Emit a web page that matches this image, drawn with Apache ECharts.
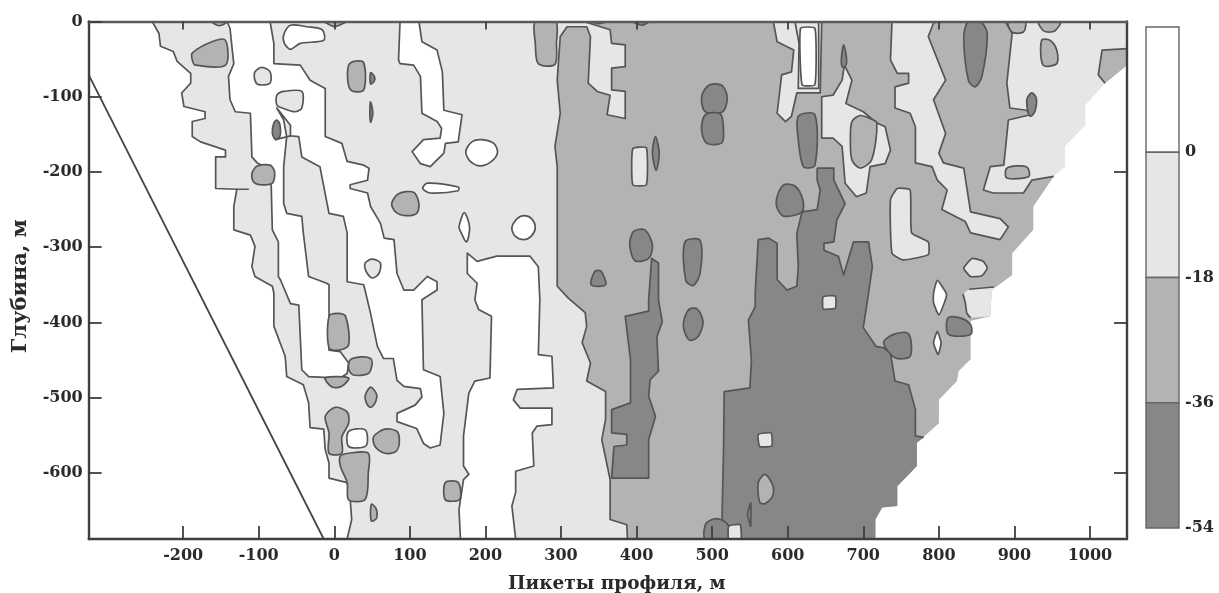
<!DOCTYPE html>
<html><head><meta charset="utf-8">
<style>html,body{margin:0;padding:0;background:#fff}#c{width:1219px;height:593px}</style>
<script src="https://cdn.jsdelivr.net/npm/echarts@6/dist/echarts.min.js"></script>
</head><body><div id="c"></div>
<script>
const xTicks=[-200,-100,0,100,200,300,400,500,600,700,800,900,1000];
const yTicks=[0,-100,-200,-300,-400,-500,-600];
const xTicksTop=[-200,0,200,400,600,800,1000];
const yTicksRight=[-200,-400,-600];
const bandLevels=[18,0,-18,-36,-54];
const barLabels=[0,-18,-36,-54];
const survey=[[-325,-71],[-14,-688]];

const leftContour=[[-241,0],[-232,-16],[-230,-33],[-213,-40],[-208,-53],[-190,-69],[-190,-82],[-202,-95],[-199,-113],[-171,-120],[-171,-129],[-188,-133],[-188,-153],[-177,-160],[-144,-171],[-144,-180],[-157,-180],[-157,-222],[-129,-223],[-133,-246],[-133,-277],[-111,-284],[-105,-299],[-109,-326],[-105,-339],[-82,-352],[-80,-361],[-80,-405],[-65,-445],[-63,-472],[-41,-483],[-34,-507],[-32,-540],[-14,-542],[-12,-569],[-7,-587],[-7,-607],[17,-613],[21,-635],[23,-662],[17,-688]];
const blankLow=[[716,-688],[716,-662],[725,-646],[745,-644],[745,-618],[771,-591],[771,-560]];
const blankMid=[[800,-534],[800,-503],[824,-478],[826,-465],[842,-449],[842,-398],[868,-392],[870,-357],[897,-337],[897,-308],[925,-277],[925,-246],[952,-206]];
const blankHigh=[[967,-193],[967,-166],[994,-138],[994,-111],[1020,-82],[1049,-58],[1049,0]];

const whiteMain=[[-142,0],[-138,-9],[-135,-38],[-133,-56],[-140,-73],[-138,-104],[-131,-120],[-111,-122],[-109,-180],[-102,-188],[-84,-197],[-82,-277],[-74,-293],[-74,-339],[-71,-344],[-58,-375],[-47,-377],[-43,-463],[-34,-472],[8,-474],[17,-468],[19,-454],[8,-439],[-7,-437],[-7,-350],[-10,-348],[-34,-339],[-41,-281],[-43,-259],[-63,-255],[-67,-242],[-67,-193],[-63,-153],[-67,-131],[-76,-115],[-58,-138],[-58,-152],[-47,-153],[-43,-180],[-19,-193],[-7,-255],[12,-259],[17,-281],[17,-346],[39,-350],[48,-388],[57,-432],[65,-448],[78,-448],[83,-477],[92,-485],[114,-488],[116,-499],[107,-510],[83,-521],[83,-532],[109,-541],[118,-561],[127,-567],[140,-563],[145,-521],[140,-472],[118,-463],[116,-370],[136,-357],[136,-346],[123,-339],[105,-357],[92,-357],[83,-335],[79,-290],[66,-288],[61,-268],[48,-246],[44,-228],[21,-222],[21,-217],[44,-211],[46,-195],[39,-191],[17,-186],[10,-162],[-12,-153],[-12,-104],[-12,-89],[-32,-78],[-45,-58],[-80,-56],[-80,-29],[-85,0]];
const whiteUpper=[[87,0],[85,-51],[87,-56],[105,-58],[114,-73],[116,-122],[136,-133],[142,-142],[140,-155],[118,-157],[103,-173],[114,-189],[127,-193],[145,-175],[147,-162],[164,-160],[169,-124],[145,-118],[143,-67],[136,-38],[116,-27],[112,0]];
const whiteLower=[[176,-308],[189,-319],[215,-312],[259,-312],[270,-326],[272,-370],[270,-443],[288,-445],[290,-487],[242,-489],[237,-503],[246,-514],[288,-514],[288,-536],[268,-538],[262,-547],[264,-591],[240,-598],[240,-626],[235,-644],[240,-688],[167,-688],[165,-649],[171,-609],[178,-602],[171,-591],[171,-551],[178,-494],[186,-478],[206,-474],[208,-392],[191,-383],[186,-370],[189,-348],[176,-335]];
const whiteBlobs=[
[[174,-173],[182,-160],[195,-157],[211,-162],[216,-174],[208,-186],[193,-192],[180,-186]],
[[235,-274],[242,-262],[251,-258],[261,-262],[266,-274],[261,-285],[251,-290],[239,-285]],
[[117,-222],[123,-215],[164,-220],[164,-225],[127,-228]],
[[165,-273],[172,-254],[179,-273],[175,-293],[167,-279]],
[[-67,-18],[-58,-5],[-36,-7],[-16,-11],[-14,-25],[-45,-29],[-58,-37],[-66,-29]],
[[19,-545],[41,-543],[42,-564],[19,-565]]];
const lightOnWhite=[
[[-105,-67],[-96,-61],[-85,-67],[-85,-82],[-100,-84],[-105,-78]],
[[-76,-98],[-67,-93],[-43,-93],[-43,-115],[-52,-120],[-69,-115],[-76,-111]],
[[41,-321],[50,-316],[61,-321],[59,-335],[50,-341],[42,-332]]];
const midBlobs=[
[[-188,-42],[-162,-27],[-144,-25],[-144,-58],[-184,-58],[-188,-51]],
[[19,-58],[26,-53],[39,-55],[39,-91],[23,-92],[18,-80]],
[[76,-242],[85,-229],[105,-227],[112,-242],[109,-255],[94,-258],[81,-253]],
[[-109,-202],[-102,-192],[-85,-191],[-79,-200],[-82,-215],[-98,-217],[-107,-213]],
[[-7,-392],[4,-388],[15,-392],[19,-430],[6,-437],[-7,-434]],
[[21,-450],[35,-446],[48,-448],[50,-456],[45,-468],[25,-470],[19,-462]],
[[-12,-474],[19,-474],[10,-485],[-3,-486]],
[[41,-497],[48,-486],[56,-496],[54,-507],[48,-513],[42,-506]],
[[-12,-525],[1,-513],[17,-519],[19,-534],[10,-552],[10,-574],[-7,-574],[-7,-547]],
[[8,-578],[19,-574],[45,-574],[45,-600],[41,-635],[19,-636],[17,-613],[8,-591]],
[[52,-552],[67,-542],[83,-545],[86,-561],[81,-572],[67,-574],[54,-565]],
[[49,-642],[55,-647],[56,-660],[49,-664]],
[[147,-613],[164,-613],[166,-635],[147,-636]],
[[266,0],[266,-29],[270,-56],[292,-57],[294,-29],[293,0]],
[[936,-25],[947,-25],[956,-38],[956,-56],[938,-58]],
[[892,0],[914,0],[912,-14],[896,-14]],
[[932,0],[961,0],[954,-12],[945,-14],[938,-12]],
[[890,-195],[916,-193],[919,-206],[890,-208]],
[[-12,0],[15,0],[4,-6],[-3,-6]],
[[-162,0],[-142,0],[-149,-5],[-155,-5]]];
const darkLens=[
[[-80,-135],[-76,-131],[-72,-137],[-72,-153],[-78,-157],[-82,-148]],
[[48,-68],[53,-73],[53,-79],[48,-83]],
[[48,-107],[51,-122],[48,-134],[47,-120]]];
const cornerMid=[[1016,-38],[1049,-36],[1049,-58],[1020,-82],[1011,-71]];
const cornerEdge=[[1049,-36],[1016,-38],[1011,-71],[1020,-82]];
const extraLines=[[[-129,-223],[-113,-223]],[[-78,-157],[-58,-152]]];

const midLeft=[[330,0],[365,-11],[367,-29],[385,-31],[385,-60],[367,-62],[367,-91],[385,-93],[385,-129],[361,-124],[365,-98],[348,-93],[336,-82],[339,-20],[334,-7],[308,-7],[299,-20],[295,-78],[299,-122],[292,-166],[295,-193],[295,-352],[310,-368],[332,-387],[334,-405],[328,-427],[339,-454],[334,-478],[359,-492],[359,-529],[354,-556],[365,-609],[365,-662],[387,-669],[388,-688]];
const midRight=[[923,-211],[912,-228],[872,-228],[859,-224],[868,-193],[886,-191],[892,-131],[921,-124],[916,-118],[894,-115],[890,-82],[897,-16],[888,0]];

const lightTop=[[581,0],[586,-27],[608,-38],[605,-67],[592,-71],[586,-122],[597,-133],[605,-126],[612,-95],[643,-95],[645,0]];
const rectHalo=[[610,-2],[615,-29],[614,-89],[641,-89],[641,-2]];
const lightNotch=[[645,-100],[660,-98],[672,-78],[675,-58],[685,-78],[677,-109],[700,-120],[718,-135],[729,-140],[736,-171],[729,-189],[709,-193],[704,-228],[691,-233],[676,-215],[672,-166],[660,-155],[645,-155]];
const lightStripe=[[738,0],[736,-51],[745,-69],[760,-69],[760,-82],[742,-87],[742,-115],[762,-122],[769,-140],[769,-188],[791,-193],[798,-211],[811,-224],[804,-250],[835,-266],[842,-281],[881,-290],[892,-273],[881,-262],[842,-253],[833,-195],[806,-188],[800,-175],[809,-149],[793,-104],[809,-78],[786,-20],[793,-2],[799,0]];
const lightEdge=[[840,-356],[873,-353],[870,-361],[868,-392],[842,-394],[837,-388],[835,-374],[832,-362]];
const lightIslands=[
[[736,-237],[745,-222],[762,-224],[764,-281],[786,-293],[786,-310],[753,-317],[738,-308]],
[[833,-328],[844,-315],[859,-319],[864,-328],[857,-338],[842,-339]],
[[395,-169],[413,-168],[413,-217],[395,-217]]];
const whiteLens=[
[[617,-9],[636,-9],[636,-84],[619,-84]],
[[793,-361],[798,-344],[810,-362],[808,-372],[800,-390],[793,-374]],
[[793,-427],[798,-412],[803,-427],[799,-443]]];
const midIsland=[[685,-133],[696,-125],[709,-129],[718,-135],[711,-184],[696,-195],[685,-184],[683,-157]];

const darkContourA=[[639,-195],[661,-195],[661,-211],[676,-242],[665,-264],[661,-293],[648,-295],[648,-304],[667,-312],[674,-337],[687,-293],[707,-293],[712,-326],[707,-361],[700,-407],[717,-432],[727,-434],[736,-441],[742,-478],[760,-483],[769,-516],[769,-551],[780,-553]];
const darkContourB=[[522,-688],[522,-671],[513,-662],[515,-574],[516,-492],[550,-487],[552,-450],[548,-397],[557,-379],[557,-361],[561,-290],[575,-288],[586,-295],[586,-343],[599,-357],[612,-352],[614,-326],[612,-282],[619,-253],[639,-250],[643,-224],[639,-211],[639,-195]];
const darkStrip=[[416,-370],[420,-315],[429,-321],[429,-370],[434,-399],[427,-419],[429,-465],[418,-476],[416,-498],[425,-525],[416,-556],[416,-607],[367,-607],[370,-565],[387,-563],[387,-549],[367,-547],[367,-516],[392,-507],[392,-450],[385,-392],[416,-385]];
const darkBlobs=[
[[486,-102],[493,-87],[504,-83],[515,-87],[520,-102],[514,-120],[491,-120]],
[[486,-144],[491,-124],[511,-123],[515,-144],[513,-161],[493,-162]],
[[421,-175],[425,-153],[430,-175],[426,-198]],
[[391,-297],[396,-279],[411,-277],[421,-297],[416,-315],[398,-318]],
[[464,-293],[484,-291],[484,-335],[475,-351],[465,-344]],
[[340,-350],[345,-332],[353,-332],[359,-350]],
[[462,-401],[469,-383],[480,-382],[488,-399],[482,-418],[471,-424],[464,-414]],
[[614,-126],[636,-124],[636,-191],[621,-193],[614,-157]],
[[586,-233],[595,-217],[610,-219],[620,-237],[619,-253],[595,-259],[586,-248]],
[[833,-20],[839,0],[855,0],[864,-16],[857,-73],[848,-87],[839,-78]],
[[917,-102],[923,-95],[929,-102],[927,-120],[921,-126],[917,-115]],
[[671,-51],[674,-31],[678,-51],[676,-60],[672,-60]],
[[812,-394],[828,-394],[842,-403],[842,-416],[813,-416]],
[[727,-427],[740,-416],[760,-415],[762,-445],[742,-447]],
[[491,-688],[491,-669],[500,-662],[511,-662],[522,-671],[522,-688]],
[[396,0],[416,0],[407,-5]],
[[341,0],[359,0],[350,-3]]];
const lightInDark=[
[[647,-366],[663,-365],[663,-381],[647,-382]],
[[561,-549],[578,-547],[579,-564],[563,-565]],
[[522,-671],[537,-669],[538,-688],[522,-688]]];
const midInDark=[[561,-613],[570,-602],[580,-616],[580,-631],[570,-641],[563,-639]];
const darkSliver=[[547,-655],[551,-640],[551,-671]];

const WHITE='#ffffff',LIGHT='#e6e6e6',MID='#b3b3b3',DARK='#878787',INK='#555555',AXIS='#3f3f3f',TEXT='#2a2a2a';
const fonts='"DejaVu Serif",serif';
const bandColors=[WHITE,LIGHT,MID,DARK];

const layers=[];
function open(fill,pts,edges){layers.push({fill,pts,edges});}
function blob(fill,pts,s){layers.push({fill,pts,closed:true,smooth:s===undefined?0.3:s});}
open(LIGHT,leftContour.concat(blankLow,blankMid,blankHigh),[leftContour]);
blob(WHITE,whiteMain,0);blob(WHITE,whiteUpper,0);blob(WHITE,whiteLower,0);
whiteBlobs.forEach(b=>blob(WHITE,b));
lightOnWhite.forEach(b=>blob(LIGHT,b));
midBlobs.forEach(b=>blob(MID,b));
darkLens.forEach(b=>blob(DARK,b));
open(MID,cornerMid,[cornerEdge]);
open(null,[],extraLines);
open(MID,midLeft.concat(blankLow,blankMid,midRight),[midLeft,[[952,-206]].concat(midRight)]);
blob(LIGHT,lightTop,0);open(null,[],[rectHalo]);blob(LIGHT,lightNotch,0);blob(LIGHT,lightStripe,0);
open(LIGHT,lightEdge,[lightEdge.slice(0,2),lightEdge.slice(4)]);
lightIslands.forEach(b=>blob(LIGHT,b,0.15));
whiteLens.forEach(b=>blob(WHITE,b,0.15));
blob(MID,midIsland);
open(DARK,darkContourA.concat(blankLow.slice().reverse(),darkContourB),[darkContourA,darkContourB]);
blob(DARK,darkStrip,0);
darkBlobs.forEach(b=>blob(DARK,b));
lightInDark.forEach(b=>blob(LIGHT,b,0.15));
blob(MID,midInDark);blob(DARK,darkSliver,0.15);

const bands=bandColors.map((c,i)=>[bandLevels[i],bandLevels[i+1],i]);

function renderLayer(p,api){
  const L=layers[api.value(0)];
  const toPx=a=>a.map(q=>api.coord(q));
  const children=[];
  if(L.closed){
    children.push({type:'polygon',shape:{points:toPx(L.pts),smooth:L.smooth},
      style:{fill:L.fill,stroke:INK,lineWidth:1.7,lineJoin:'round'}});
  }else{
    if(L.pts.length)children.push({type:'polygon',shape:{points:toPx(L.pts)},style:{fill:L.fill,stroke:null}});
    (L.edges||[]).forEach(e=>children.push({type:'polyline',shape:{points:toPx(e)},
      style:{fill:null,stroke:INK,lineWidth:1.7,lineJoin:'round'}}));
  }
  return {type:'group',children};
}
function renderBand(p,api){
  const a=api.coord([0,api.value(0)]),b=api.coord([1,api.value(1)]);
  return {type:'rect',shape:{x:a[0],y:a[1],width:b[0]-a[0],height:b[1]-a[1]},
    style:{fill:bandColors[api.value(2)],stroke:'#666666',lineWidth:1.4}};
}
const lab={fontFamily:fonts,fontWeight:'bold',fontSize:16,color:TEXT};
const chart=echarts.init(document.getElementById('c'),null,{renderer:'canvas',width:1219,height:593});
chart.setOption({
  animation:false,backgroundColor:'#fff',
  grid:[{left:88.7,top:21.5,width:1038.3,height:517.5,containLabel:false,outerBoundsMode:'none'},
        {left:1146,top:27,width:33,height:501,outerBoundsMode:'none'}],
  xAxis:[
   {gridIndex:0,type:'value',min:-325,max:1049,position:'bottom',z:5,splitLine:{show:false},
    axisLine:{onZero:false,lineStyle:{color:AXIS,width:2.4}},
    axisTick:{inside:true,length:13,customValues:xTicks,lineStyle:{color:AXIS,width:1.8}},
    axisLabel:Object.assign({customValues:xTicks,margin:9,formatter:v=>String(v)},lab),
    name:'Пикеты профиля, м',nameLocation:'middle',nameGap:36,
    nameTextStyle:{fontFamily:fonts,fontWeight:'bold',fontSize:18.5,color:TEXT,padding:[0,0,0,18]}},
   {gridIndex:0,type:'value',min:-325,max:1049,position:'top',z:5,splitLine:{show:false},
    axisLine:{onZero:false,lineStyle:{color:'#5a5a5a',width:2.4}},
    axisTick:{inside:true,length:8,customValues:xTicksTop,lineStyle:{color:AXIS,width:1.8}},
    axisLabel:{show:false}},
   {gridIndex:1,type:'value',min:0,max:1,show:false}],
  yAxis:[
   {gridIndex:0,type:'value',min:-688,max:0,position:'left',z:5,splitLine:{show:false},
    axisLine:{onZero:false,lineStyle:{color:AXIS,width:2.4}},
    axisTick:{inside:true,length:13,customValues:yTicks,lineStyle:{color:AXIS,width:1.8}},
    axisLabel:Object.assign({customValues:yTicks,margin:6,formatter:v=>String(v)},lab),
    name:'Глубина, м',nameLocation:'middle',nameGap:58,
    nameTextStyle:{fontFamily:fonts,fontWeight:'bold',fontSize:21,color:TEXT,padding:[0,12,0,0]}},
   {gridIndex:0,type:'value',min:-688,max:0,position:'right',z:5,splitLine:{show:false},
    axisLine:{onZero:false,lineStyle:{color:AXIS,width:2.4}},
    axisTick:{inside:true,length:13,customValues:yTicksRight,lineStyle:{color:AXIS,width:1.8}},
    axisLabel:{show:false}},
   {gridIndex:1,type:'value',min:-54,max:18,position:'right',splitLine:{show:false},
    axisLine:{show:false},axisTick:{show:false},
    axisLabel:Object.assign({customValues:barLabels,margin:6,formatter:v=>String(v)},lab)}],
  series:[
   {type:'custom',xAxisIndex:0,yAxisIndex:0,z:1,silent:true,clip:true,renderItem:renderLayer,
    data:layers.map((_,i)=>[i]),encode:{x:[],y:[]}},
   {type:'line',xAxisIndex:0,yAxisIndex:0,z:3,silent:true,symbol:'none',data:survey,
    lineStyle:{color:'#444444',width:1.8}},
   {type:'custom',xAxisIndex:2,yAxisIndex:2,z:1,silent:true,renderItem:renderBand,data:bands,
    encode:{y:[0,1]}}]
});
</script></body></html>
